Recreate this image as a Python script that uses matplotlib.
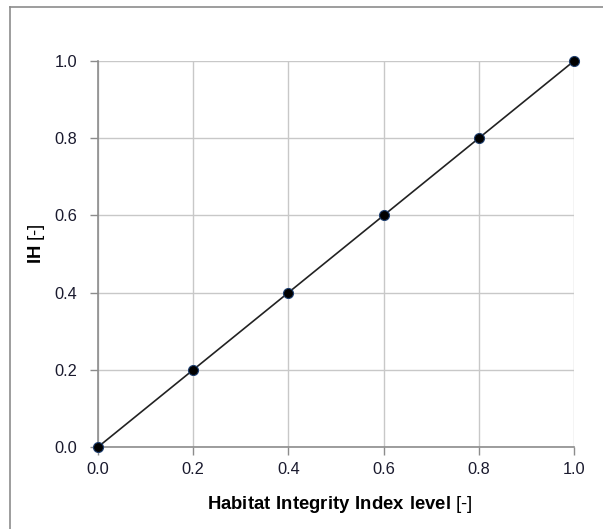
import matplotlib
matplotlib.use("Agg")
import matplotlib.pyplot as plt
from matplotlib.lines import Line2D

x_vals = [0.0, 0.2, 0.4, 0.6, 0.8, 1.0]
ih_vals = [0.0, 0.2, 0.4, 0.6, 0.8, 1.0]
tick_vals = [0.0, 0.2, 0.4, 0.6, 0.8, 1.0]
tick_labels = ["0.0", "0.2", "0.4", "0.6", "0.8", "1.0"]

plt.rcParams['font.family'] = ['Liberation Sans', 'DejaVu Sans']
plt.rcParams['mathtext.fontset'] = 'custom'
plt.rcParams['mathtext.rm'] = 'Liberation Sans'
plt.rcParams['mathtext.bf'] = 'Liberation Sans:bold'

W, H = 603, 529
fig = plt.figure(figsize=(W/100, H/100), dpi=100)
fig.patch.set_facecolor('white')

# outer chart frame (left and top edges visible)
fig.add_artist(Line2D([10/W, 10/W], [0, 1 - 7/H], transform=fig.transFigure, color='#8c8c8c', lw=1.2))
fig.add_artist(Line2D([10/W, 1], [1 - 7/H, 1 - 7/H], transform=fig.transFigure, color='#8c8c8c', lw=1.2))

ax = fig.add_axes([98/W, 1 - 447/H, (574-98)/W, (447-61)/H])
ax.set_xlim(0, 1)
ax.set_ylim(0, 1)
ax.grid(True, color='#c8c8c8', lw=1.0)
ax.set_axisbelow(True)
for s in ['top', 'right']:
    ax.spines[s].set_visible(False)
for s in ['left', 'bottom']:
    ax.spines[s].set_color('#8c8c8c')
    ax.spines[s].set_linewidth(1.2)

ax.plot(x_vals, ih_vals, color='#222222', lw=1.2, marker='o', markersize=7.2,
        markerfacecolor='black', markeredgecolor='#1f3f6f', markeredgewidth=0.8, clip_on=False, zorder=5)

ax.set_xticks(tick_vals)
ax.set_xticklabels(tick_labels)
ax.set_yticks(tick_vals)
ax.set_yticklabels(tick_labels)
ax.tick_params(axis='both', colors='#8c8c8c', labelcolor='#1a1a2e', labelsize=11.8, length=6, width=1, direction='out')
ax.tick_params(axis='x', pad=5)
ax.tick_params(axis='y', pad=9)

ax.set_xlabel(r"$\mathbf{Habitat\ Integrity\ Index\ level}$ [-]", fontsize=13.3, color='black')
ax.set_ylabel(r"$\mathbf{IH}$ [-]", fontsize=13.3, color='black')
ax.xaxis.set_label_coords((340-98)/476, (447-494)/386)
ax.yaxis.set_label_coords((47-98)/476, (447-244)/386)

fig.savefig("out.png", dpi=100)
